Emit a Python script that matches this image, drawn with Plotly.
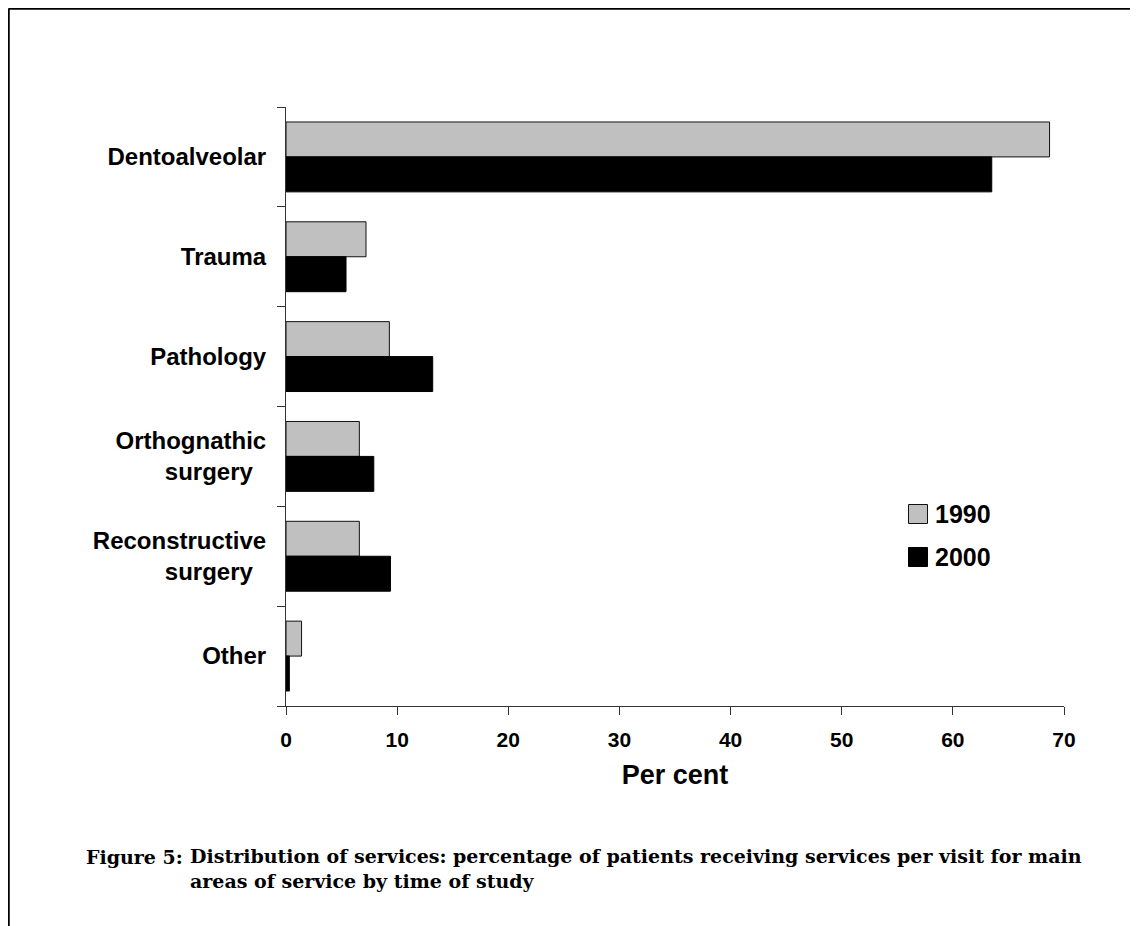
import plotly.graph_objects as go

categories = ["Dentoalveolar", "Trauma", "Pathology", "Orthognathic surgery",
              "Reconstructive surgery", "Other"]
tick_labels = ["Dentoalveolar", "Trauma", "Pathology",
               "Orthognathic<br>surgery\u00a0\u00a0",
               "Reconstructive<br>surgery\u00a0\u00a0", "Other"]
values_1990 = [68.7, 7.2, 9.3, 6.6, 6.6, 1.4]
values_2000 = [63.5, 5.4, 13.2, 7.9, 9.4, 0.3]
series_names = ["1990", "2000"]
x_ticks = [0, 10, 20, 30, 40, 50, 60, 70]

# page geometry (the page body adds an 8px offset)
OFF = 8
W, H = 1138, 926
L, R, T, B = 286, 1064, 107, 706

def px(x):
    return (x - L) / (R - L)

def py(y):
    return (B - y) / (B - T)

GRAY = "#c0c0c0"
AX = "#333333"
SANS = "Liberation Sans"

fig = go.Figure()
fig.add_trace(go.Bar(y=categories, x=values_1990, orientation="h", name=series_names[0],
                     marker=dict(color=GRAY, line=dict(color="#111111", width=1)),
                     showlegend=False))
fig.add_trace(go.Bar(y=categories, x=values_2000, orientation="h", name=series_names[1],
                     marker=dict(color="#000000", line=dict(color="#000000", width=1)),
                     showlegend=False))

shapes = [
    # frame lines
    dict(type="line", xref="paper", yref="paper", x0=px(8.5), x1=px(1145), y0=py(8.5), y1=py(8.5),
         line=dict(color="black", width=2.5)),
    dict(type="line", xref="paper", yref="paper", x0=px(8.5), x1=px(8.5), y0=py(8.5), y1=py(940),
         line=dict(color="black", width=2.5)),
    # legend swatches
    dict(type="rect", xref="paper", yref="paper", x0=px(908.5), x1=px(927.5), y0=py(504.5), y1=py(523.5),
         fillcolor=GRAY, line=dict(color="#111111", width=1)),
    dict(type="rect", xref="paper", yref="paper", x0=px(908.5), x1=px(927.5), y0=py(547.5), y1=py(566.5),
         fillcolor="black", line=dict(color="black", width=1)),
]

CAP = dict(family="DejaVu Serif", size=19, color="black", weight="bold")
annotations = [
    dict(text=series_names[0], xref="paper", yref="paper", x=px(933), y=py(514), xanchor="left",
         yanchor="middle", showarrow=False, font=dict(family=SANS, size=25, color="black", weight="bold")),
    dict(text=series_names[1], xref="paper", yref="paper", x=px(933), y=py(557), xanchor="left",
         yanchor="middle", showarrow=False, font=dict(family=SANS, size=25, color="black", weight="bold")),
    dict(text="Figure 5:", xref="paper", yref="paper", x=px(84), y=py(857), xanchor="left",
         yanchor="middle", showarrow=False, font=CAP),
    dict(text="Distribution of services: percentage of patients receiving services per visit for main<br>"
              "areas of service by time of study",
         xref="paper", yref="paper", x=px(188), y=py(857), xanchor="left", yanchor="top",
         align="left", showarrow=False, yshift=14, font=CAP),
]

fig.update_layout(
    width=W - OFF, height=H - OFF,
    margin=dict(l=L - OFF, r=W - R, t=T - OFF, b=H - B, pad=0),
    paper_bgcolor="white", plot_bgcolor="white",
    barmode="group", bargap=0.3, bargroupgap=0,
    shapes=shapes, annotations=annotations,
    showlegend=False,
)
fig.update_xaxes(
    range=[0, 70], tickvals=x_ticks, ticktext=[str(v) for v in x_ticks],
    showgrid=False, zeroline=False,
    showline=True, linecolor=AX, linewidth=1,
    ticks="outside", ticklen=8, tickwidth=1, tickcolor=AX,
    tickfont=dict(family=SANS, size=21, color="black", weight="bold"),
    ticklabelstandoff=7,
    title=dict(text="Per cent", standoff=14,
               font=dict(family=SANS, size=27, color="black", weight="bold")),
)
fig.update_yaxes(
    type="category", categoryorder="array", categoryarray=categories,
    tickvals=categories, ticktext=tick_labels,
    autorange="reversed", showgrid=False, zeroline=False,
    showline=True, linecolor=AX, linewidth=1,
    ticks="outside", ticklen=8, tickwidth=1, tickcolor=AX, tickson="boundaries",
    tickfont=dict(family=SANS, size=24, color="black", weight="bold"),
    ticklabelstandoff=14,
)

fig.write_html("out.html")
